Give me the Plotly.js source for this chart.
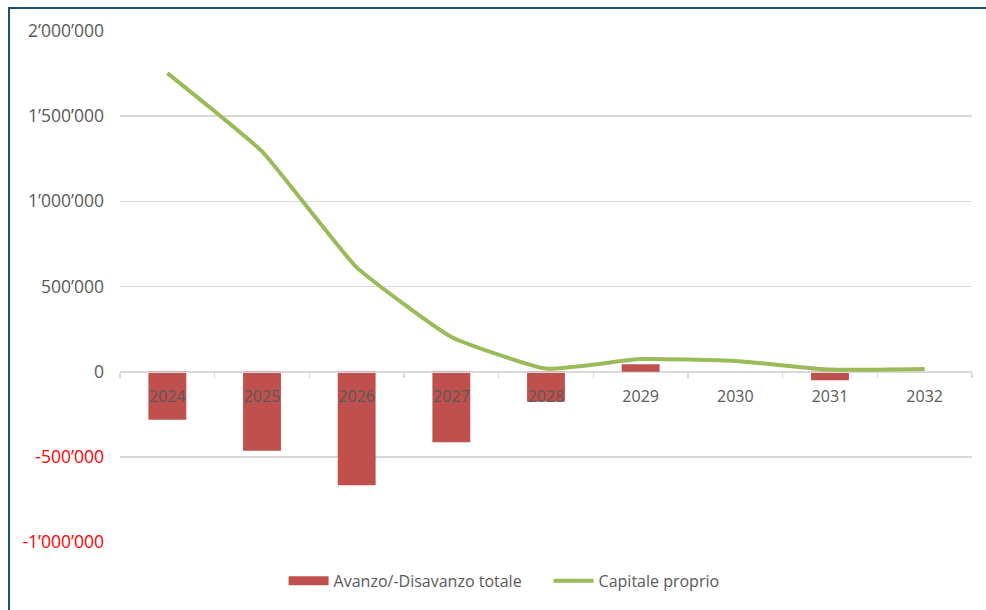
<!DOCTYPE html>
<html>
<head>
<meta charset="utf-8">
<script src="https://cdn.plot.ly/plotly-3.0.1.min.js"></script>
<style>
  html, body { margin: 0; padding: 0; background: #fff; }
  #wrap { position: relative; width: 986px; height: 610px; overflow: hidden; }
  #chart { position: absolute; left: 0; top: 0; width: 986px; height: 610px; }
  #frame { position: absolute; left: 8px; top: 7px; width: 990px; height: 620px;
           border-left: 2px solid #1F4E79; border-top: 2px solid #1F4E79; pointer-events: none; }
</style>
</head>
<body>
<div id="wrap">
  <div id="chart"></div>
  <div id="frame"></div>
</div>
<script>
const years = ['2024', '2025', '2026', '2027', '2028', '2029', '2030', '2031', '2032'];
const avanzoDisavanzo = [-282000, -465000, -667000, -415000, -176000, 43000, 0, -51000, 0];
const capitaleProprio = [1753000, 1293000, 612000, 204000, 18000, 74000, 63000, 12000, 16000];
const yTickValues = [-1000000, -500000, 0, 500000, 1000000, 1500000, 2000000];
const yTickLabels = ['-1’000’000', '-500’000', '0', '500’000', '1’000’000', '1’500’000', '2’000’000'];
const seriesNames = ['Avanzo/-Disavanzo totale', 'Capitale proprio'];

const yTickText = yTickValues.map((v, i) =>
  v < 0 ? '<span style="color:#FF0000">' + yTickLabels[i] + '</span>' : yTickLabels[i]);

const traces = [
  {
    type: 'bar',
    name: seriesNames[0],
    x: years,
    y: avanzoDisavanzo,
    marker: { color: '#C0504D' },
    width: 0.4,
    showlegend: false,
    legendgroup: 'bars',
    hoverinfo: 'x+y'
  },
  {
    // legend swatch only: wide red bar symbol as in the reference
    type: 'scatter',
    mode: 'lines',
    name: seriesNames[0],
    x: [null],
    y: [null],
    legendgroup: 'bars',
    line: { color: '#C0504D', width: 9 },
    hoverinfo: 'skip'
  },
  {
    type: 'scatter',
    mode: 'lines',
    name: seriesNames[1],
    x: years,
    y: capitaleProprio,
    line: { color: '#9BBB59', width: 4, shape: 'spline', smoothing: 0.4 },
    hoverinfo: 'x+y'
  }
];

const layout = {
  width: 986,
  height: 610,
  margin: { l: 120, r: 14, t: 31, b: 68 },
  paper_bgcolor: '#ffffff',
  plot_bgcolor: '#ffffff',
  font: { family: 'Open Sans, Liberation Sans, Arial, sans-serif', color: '#595959', size: 16 },
  showlegend: true,
  legend: {
    orientation: 'h',
    x: 0.192, xanchor: 'left',
    y: -0.076, yanchor: 'middle',
    font: { size: 16, color: '#595959' },
    traceorder: 'normal',
    itemwidth: 40,
    entrywidth: 210
  },
  xaxis: {
    type: 'category',
    anchor: 'free',
    position: 1 / 3,
    showline: true,
    linecolor: '#D9D9D9',
    linewidth: 1.5,
    showgrid: false,
    ticks: 'outside',
    tickson: 'boundaries',
    ticklen: 5,
    tickcolor: '#D9D9D9',
    tickwidth: 1.5,
    ticklabelstandoff: 10,
    tickfont: { size: 16, color: '#595959' },
    layer: 'above traces',
    fixedrange: true
  },
  yaxis: {
    range: [-1000000, 2000000],
    tickvals: yTickValues,
    ticktext: yTickText,
    showgrid: true,
    gridcolor: '#D9D9D9',
    gridwidth: 1.5,
    zeroline: false,
    showline: false,
    ticks: '',
    ticklabelstandoff: 15,
    tickfont: { size: 17.5, color: '#595959' },
    fixedrange: true
  }
};

Plotly.newPlot('chart', traces, layout, { displayModeBar: false, staticPlot: true });
</script>
</body>
</html>
